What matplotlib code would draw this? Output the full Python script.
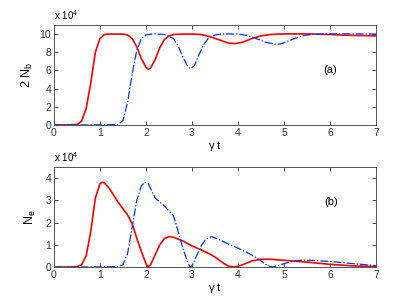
import numpy as np
import matplotlib
matplotlib.use('Agg')
import matplotlib.pyplot as plt

plt.rcParams['font.family'] = ['Liberation Sans', 'DejaVu Sans']
plt.rcParams['mathtext.default'] = 'regular'

# values in units of 1e4
# (a) 2 N_b
t_red_a = [0, 0.3, 0.5, 0.6, 0.7, 0.8, 0.9, 1.0, 1.1, 1.2, 1.5, 1.6, 1.7, 1.8, 1.9, 2.0,
           2.05, 2.1, 2.2, 2.3, 2.4, 2.5, 2.6, 2.8, 3.0, 3.2, 3.4, 3.6, 3.8, 3.93, 4.1,
           4.3, 4.5, 4.7, 5.0, 5.5, 6.0, 6.5, 7.0]
red_a = [0, 0, 0.05, 0.4, 1.8, 4.6, 8.0, 9.5, 9.95, 10, 10, 9.9, 9.5, 8.6, 7.3, 6.35,
         6.13, 6.25, 7.2, 8.5, 9.4, 9.8, 9.95, 10, 10, 9.95, 9.7, 9.35, 9.0, 8.95, 9.1,
         9.5, 9.8, 9.95, 10.02, 10.02, 9.95, 9.85, 9.8]

t_blue_a = [0, 1.0, 1.4, 1.5, 1.6, 1.7, 1.8, 1.9, 2.0, 2.1, 2.2, 2.4, 2.6, 2.7, 2.8, 2.9,
            2.96, 3.05, 3.15, 3.25, 3.35, 3.5, 3.7, 4.0, 4.2, 4.4, 4.6, 4.8, 4.9, 5.0,
            5.2, 5.4, 5.6, 6.0, 6.5, 7.0]
blue_a = [0, 0, 0.05, 0.5, 2.5, 5.6, 8.2, 9.5, 9.9, 10, 10.02, 9.95, 9.5, 8.7, 7.5, 6.5,
          6.2, 6.5, 7.7, 8.8, 9.5, 9.9, 10.02, 10, 9.85, 9.5, 9.1, 8.9, 8.9, 9.05,
          9.45, 9.8, 9.97, 10.02, 10.02, 10.0]

# (b) N_e
t_red_b = [0, 0.4, 0.5, 0.6, 0.7, 0.8, 0.9, 1.0, 1.05, 1.1, 1.2, 1.4, 1.6, 1.7, 1.8,
           1.9, 2.0, 2.05, 2.1, 2.2, 2.3, 2.4, 2.5, 2.6, 2.8, 3.0, 3.2, 3.4, 3.5, 3.6,
           3.7, 3.8, 3.9, 4.0, 4.1, 4.3, 4.5, 4.7, 5.0, 5.5, 6.0, 6.5, 7.0]
red_b = [0, 0, 0.02, 0.1, 0.5, 1.6, 3.1, 3.75, 3.82, 3.78, 3.55, 2.9, 2.35, 1.95, 1.3,
         0.7, 0.15, 0, 0.1, 0.55, 1.0, 1.28, 1.37, 1.34, 1.17, 0.95, 0.77, 0.57, 0.45, 0.3,
         0.15, 0.04, 0, 0.03, 0.1, 0.27, 0.35, 0.35, 0.3, 0.22, 0.12, 0.05, 0.02]

t_blue_b = [0, 1.0, 1.4, 1.5, 1.6, 1.7, 1.8, 1.9, 1.97, 2.05, 2.2, 2.4, 2.6, 2.7, 2.8,
            2.9, 2.96, 3.0, 3.1, 3.2, 3.3, 3.43, 3.6, 3.8, 4.0, 4.2, 4.4, 4.5, 4.6,
            4.7, 4.75, 4.9, 5.0, 5.2, 5.4, 5.6, 6.0, 6.5, 7.0]
blue_b = [0, 0, 0.02, 0.1, 0.6, 1.8, 3.0, 3.65, 3.82, 3.75, 3.1, 2.75, 2.3, 1.6, 0.85,
          0.25, 0, 0.05, 0.5, 0.95, 1.25, 1.37, 1.22, 1.02, 0.85, 0.65, 0.42, 0.28, 0.12,
          0.02, 0, 0.08, 0.15, 0.27, 0.31, 0.3, 0.25, 0.15, 0.06]

xticks = [0, 1, 2, 3, 4, 5, 6, 7]

fig = plt.figure(figsize=(4.15, 3.01), dpi=100)
ax1 = fig.add_axes([0.130, 0.585, 0.776, 0.332])
ax2 = fig.add_axes([0.130, 0.113, 0.776, 0.332])

ax1.plot(t_red_a, red_a, color='#ff0000', lw=1.2)
ax1.plot(t_blue_a, blue_a, color='#0033ff', lw=0.9, ls='-.')
ax2.plot(t_red_b, red_b, color='#ff0000', lw=1.2)
ax2.plot(t_blue_b, blue_b, color='#0033ff', lw=0.9, ls='-.')

ax1.set_ylim(0, 11)
ax1.set_yticks([0, 2, 4, 6, 8, 10])
ax2.set_ylim(0, 4.5)
ax2.set_yticks([0, 1, 2, 3, 4])

for ax in (ax1, ax2):
    ax.set_xlim(0, 7)
    ax.set_xticks(xticks)
    ax.tick_params(direction='in', length=3, width=0.6, labelsize=7.5,
                   top=True, right=True, colors='#333333', pad=2)
    for s in ax.spines.values():
        s.set_linewidth(0.7)
        s.set_color('#555555')
    ax.set_xlabel(r'$\gamma$ t', fontsize=8, labelpad=1)
    ax.text(0.0, 1.03, r'x 10$^4$', transform=ax.transAxes, fontsize=7, ha='left', va='bottom')

ax1.set_ylabel('2 N$_b$', fontsize=9, labelpad=3)
ax2.set_ylabel('N$_e$', fontsize=9, labelpad=5)
ax1.text(6.0, 6.0, '(a)', fontsize=8, ha='center', va='center')
ax2.text(6.02, 2.93, '(b)', fontsize=8, ha='center', va='center')

fig.savefig('out.png', dpi=100)
